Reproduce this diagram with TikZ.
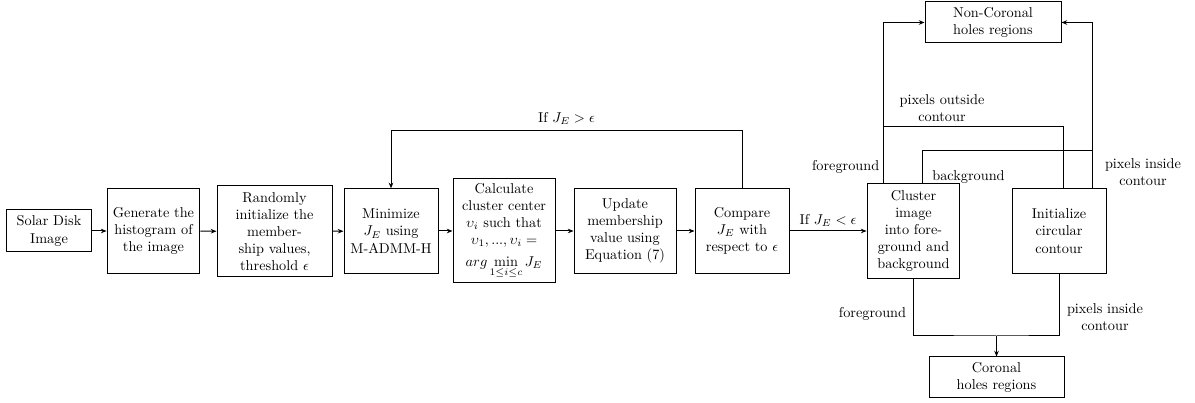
\documentclass[tikz,border=0pt]{standalone}
\usepackage{amsmath}
\usetikzlibrary{arrows.meta,calc}
\tikzset{
  box/.style={draw, line width=0.7pt, align=center, inner sep=2pt},
  arr/.style={line width=0.7pt, -{Stealth[length=4pt,width=3.2pt]}},
  ln/.style={line width=0.7pt},
  lbl/.style={align=center, inner sep=1pt}
}
\begin{document}
\begin{tikzpicture}[x=0.7pt,y=-0.7pt]
\useasboundingbox (0,0) rectangle (1195,403);
\node[box, minimum width=58.8pt, minimum height=29.4pt] (solar) at (49,231) {Solar Disk\\Image};
\node[box, minimum width=65pt, minimum height=59pt] (gen) at (153.5,231) {Generate the\\histogram of\\the image};
\node[box, minimum width=80.5pt, minimum height=63.7pt] (rand) at (274.5,231.5) {Randomly\\initialize the\\member-\\ship values,\\threshold $\epsilon$};
\node[box, minimum width=65.8pt, minimum height=59pt] (mini) at (391,231) {Minimize\\$J_E$ using\\M-ADMM-H};
\node[box, minimum width=71.4pt, minimum height=72.8pt, inner sep=0.5pt] (calc) at (504,231) {Calculate\\cluster center\\$\upsilon_i$ such that\\$\upsilon_1,...,\upsilon_i=$\\[3pt]$arg\min\limits_{1\leq i\leq c}J_E$};
\node[box, minimum width=71.4pt, minimum height=59pt] (upd) at (625,231) {Update\\membership\\value using\\Equation (7)};
\node[box, minimum width=65.8pt, minimum height=59pt] (comp) at (742,231) {Compare\\$J_E$ with\\respect to $\epsilon$};
\node[box, minimum width=65pt, minimum height=66pt] (clus) at (913.5,231) {Cluster\\image\\into fore-\\ground and\\background};
\node[box, minimum width=65.8pt, minimum height=59pt] (init) at (1059,231) {Initialize\\circular\\contour};
\node[box, minimum width=94.5pt, minimum height=28.7pt] (cor) at (996.5,377.5) {Coronal\\holes regions};
\node[box, minimum width=95.2pt, minimum height=28.7pt] (ncor) at (993,22.5) {Non-Coronal\\holes regions};

\draw[arr] (solar) -- (gen);
\draw[arr] (gen) -- (rand);
\draw[arr] (rand) -- (mini);
\draw[arr] (mini) -- (calc);
\draw[arr] (calc) -- (upd);
\draw[arr] (upd) -- (comp);
\coordinate (fb) at (742,131);
\draw[arr] (comp.north) -- (fb) -| node[pos=0.25, above=3pt, lbl]{If $J_E>\epsilon$} (mini.north);
\draw[arr] (comp) -- node[above=2pt, lbl]{If $J_E<\epsilon$} (clus);

% upper right routing
\coordinate (fgA) at ($(clus.north)+(-30.5,0)$);
\coordinate (bgA) at ($(clus.north)+(8.5,0)$);
\coordinate (bgB) at (1092.5,151);
\coordinate (poA) at ($(init.north)+(4,0)$);
\coordinate (poB) at (883,126.5);
\coordinate (piA) at ($(init.north)+(33.5,0)$);
\draw[arr] (fgA) |- (ncor.west);
\draw[arr] (bgA) |- (bgB) |- (ncor.east);
\draw[ln] (poA) |- (poB);
\draw[ln] (piA) -- (bgB);
\node[lbl, anchor=east] (l1) at (881,167) {foreground};
\node[lbl] (l2) at (968.5,177) {background};
\node[lbl] (l3) at (942,108) {pixels outside\\contour};
\node[lbl] (l4) at (1143,172) {pixels inside\\contour};

% bottom routing
\coordinate (jn) at (cor.north |- 0,336);
\draw[ln] (clus.south) |- (jn) -| (init.south);
\draw[arr] (jn) -- (cor.north);
\node[lbl] (l5) at (872.5,314) {foreground};
\node[lbl] (l6) at (1105,317) {pixels inside\\contour};
\end{tikzpicture}
\end{document}
